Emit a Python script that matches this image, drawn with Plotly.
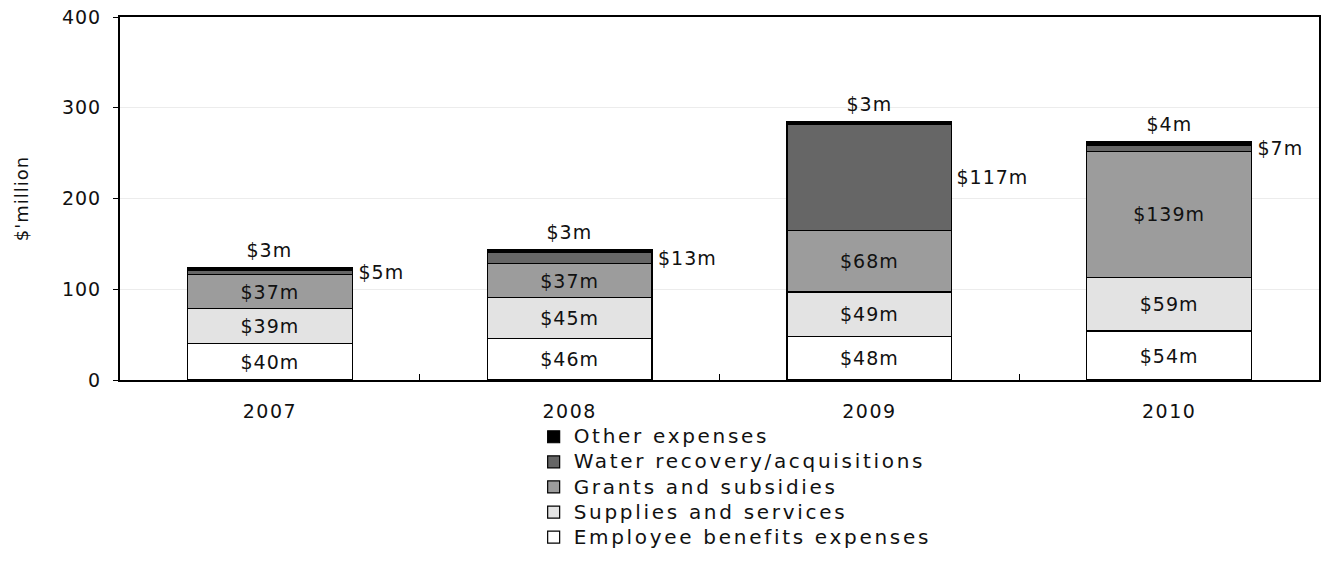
import plotly.graph_objects as go

# Expense categories by financial year ($ million)
years = ["2007", "2008", "2009", "2010"]
employee_benefits = [40, 46, 48, 54]
supplies_services = [39, 45, 49, 59]
grants_subsidies = [37, 37, 68, 139]
water_recovery = [5, 13, 117, 7]
other_expenses = [3, 3, 3, 4]

FONT = "DejaVu Sans"
INK = "#111111"

series = [
    ("Employee benefits expenses", employee_benefits, "#ffffff", True),
    ("Supplies and services", supplies_services, "#e3e3e3", True),
    ("Grants and subsidies", grants_subsidies, "#9c9c9c", True),
    ("Water recovery/acquisitions", water_recovery, "#666666", False),
    ("Other expenses", other_expenses, "#000000", False),
]

fig = go.Figure()
for name, vals, colour, inner_label in series:
    fig.add_trace(go.Bar(
        x=years, y=vals, name=name,
        marker=dict(color=colour, line=dict(color="#000000", width=1.2)),
        text=[f"${v}m" for v in vals] if inner_label else None,
        textposition="inside" if inner_label else "none",
        insidetextanchor="middle",
        textfont=dict(family=FONT, size=19, color=INK),
        constraintext="none",
    ))

annotations = []
for i in range(len(years)):
    base = employee_benefits[i] + supplies_services[i] + grants_subsidies[i]
    # Water recovery label to the right of its segment (x = category index)
    annotations.append(dict(
        x=i, y=base + water_recovery[i] / 2, text=f"${water_recovery[i]}m",
        showarrow=False, xanchor="left", yanchor="middle", xshift=88,
        font=dict(family=FONT, size=19, color=INK),
    ))
    # Other expenses label just above the stack
    total = base + water_recovery[i] + other_expenses[i]
    annotations.append(dict(
        x=i, y=total, text=f"${other_expenses[i]}m",
        showarrow=False, xanchor="center", yanchor="middle", yshift=17,
        font=dict(family=FONT, size=19, color=INK),
    ))

fig.update_layout(
    width=1326, height=585,
    margin=dict(l=120, r=5, t=17, b=205),
    barmode="stack", bargap=0.45,
    plot_bgcolor="#ffffff", paper_bgcolor="#ffffff",
    font=dict(family=FONT, size=18, color=INK),
    annotations=annotations,
    legend=dict(
        orientation="v", traceorder="reversed",
        x=0.345, xanchor="left", y=-0.108, yanchor="top",
        font=dict(family=FONT, size=17, color=INK),
        tracegroupgap=0,
    ),
    xaxis=dict(
        type="category", range=[-0.5, len(years) - 0.5],
        showline=True, linecolor="#000000", linewidth=2, mirror=True,
        ticks="inside", tickson="boundaries", ticklen=6, tickcolor="#000000",
        tickfont=dict(family=FONT, size=19), ticklabelstandoff=13,
        showgrid=False,
    ),
    yaxis=dict(
        range=[0, 400], tickvals=[0, 100, 200, 300, 400],
        showline=True, linecolor="#000000", linewidth=2, mirror=True,
        ticks="outside", ticklen=5, tickcolor="#000000",
        tickfont=dict(family=FONT, size=19), ticklabelstandoff=8,
        showgrid=True, gridcolor="#ececec", gridwidth=1, zeroline=False,
        title=dict(text="$'million", font=dict(family=FONT, size=18), standoff=32),
    ),
)

# Slightly open tracking on all text, wider and larger for the legend entries
text_style = (
    "var s=document.createElement('style');"
    "s.textContent='svg text{letter-spacing:1px}"
    " .xtick text{letter-spacing:1.5px}"
    " .legendtext{letter-spacing:2.7px;font-size:20px !important}"
    " .legend .scrollbox{clip-path:none !important}';"
    "document.head.appendChild(s);"
)

fig.write_html("out.html", post_script=text_style)
